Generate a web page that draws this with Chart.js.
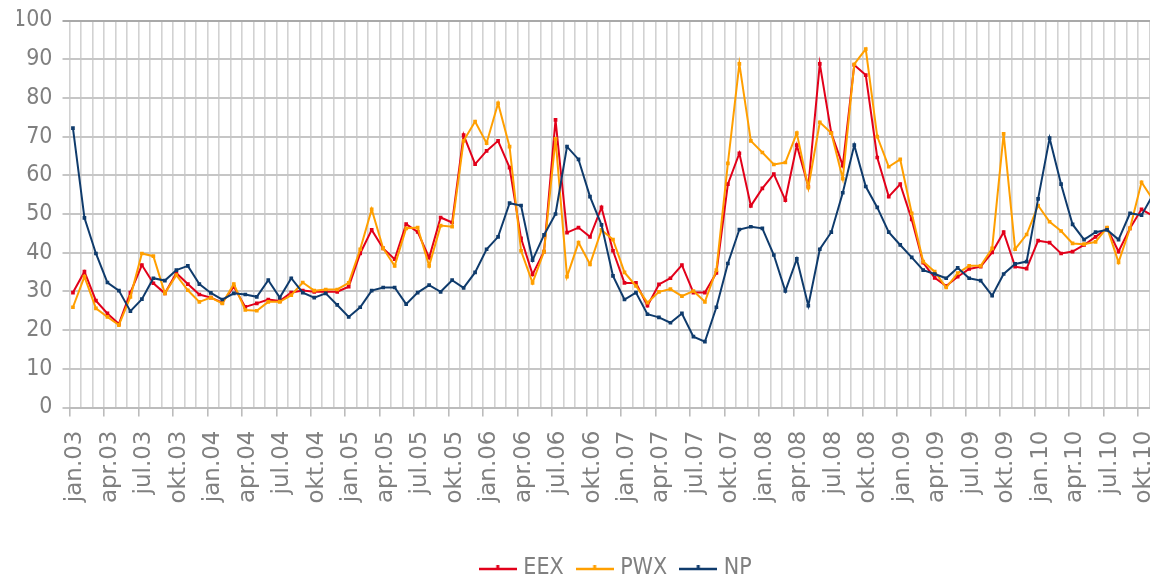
<!DOCTYPE html>
<html>
<head>
<meta charset="utf-8">
<title>EEX, PWX og NP</title>
<script src="https://cdn.jsdelivr.net/npm/chart.js@4.4.1/dist/chart.umd.min.js"></script>
<style>
  html, body { margin: 0; padding: 0; background: #fff; overflow: hidden; }
</style>
</head>
<body>
<!-- canvas is wider than the window on purpose: the chart runs on past nov.10 and is cut at the right edge -->
<canvas id="priceChart" width="1239" height="582"></canvas>
<script>
// monthly prices jan.03 - nov.10
const monthNames = ['jan', 'feb', 'mar', 'apr', 'mai', 'jun', 'jul', 'aug', 'sep', 'okt', 'nov', 'des'];
const years = ['03', '04', '05', '06', '07', '08', '09', '10'];

const eex = [
    29.7, 35.1, 27.6, 24.3, 21.6, 29.7, 36.8, 32.1, 29.5, 34.7, 31.9, 29.2,
    28.4, 27.1, 31.2, 26.0, 26.9, 27.9, 27.5, 29.7, 30.2, 29.9, 29.9, 29.9,
    31.2, 39.8, 45.9, 41.1, 38.3, 47.4, 45.4, 38.7, 49.1, 47.8, 70.4, 62.9,
    66.3, 68.9, 62.0, 43.7, 34.4, 40.3, 74.3, 45.2, 46.5, 44.1, 51.7, 40.5,
    32.2, 32.2, 26.3, 31.8, 33.4, 36.8, 29.7, 29.7, 34.8, 57.7, 65.7, 52.1,
    56.6, 60.3, 53.6, 67.8, 57.1, 88.8, 70.9, 62.5, 88.5, 85.9, 64.6, 54.5,
    57.7, 48.6, 37.4, 33.5, 31.4, 33.8, 35.8, 36.4, 40.1, 45.3, 36.4, 35.9,
    43.1, 42.6, 39.8, 40.3, 42.0, 44.1, 46.3, 40.3, 46.3, 51.2, 49.5
];
const pwx = [
    25.9, 33.8, 25.6, 23.4, 21.3, 28.6, 39.8, 39.1, 29.5, 34.2, 30.3, 27.3,
    28.4, 26.9, 31.9, 25.2, 25.0, 27.3, 27.3, 29.0, 32.3, 30.2, 30.5, 30.5,
    32.2, 40.9, 51.2, 41.1, 36.6, 46.3, 46.5, 36.6, 47.0, 46.7, 68.9, 73.9,
    68.3, 78.6, 67.4, 40.5, 32.2, 40.3, 69.4, 33.8, 42.6, 37.0, 45.9, 43.4,
    34.9, 31.4, 27.1, 29.9, 30.6, 28.8, 30.1, 27.3, 35.5, 63.1, 88.8, 68.9,
    65.9, 62.8, 63.3, 70.9, 56.8, 73.7, 70.9, 59.1, 88.7, 92.6, 70.0, 62.2,
    64.1, 50.2, 37.7, 35.1, 31.0, 34.7, 36.6, 36.6, 41.1, 70.7, 40.9, 44.7,
    52.2, 48.0, 45.6, 42.4, 42.2, 42.8, 46.5, 37.5, 46.3, 58.2, 53.7
];
const np = [
    72.2, 49.0, 39.8, 32.3, 30.2, 24.9, 28.0, 33.4, 32.8, 35.5, 36.6, 31.9,
    29.6, 27.9, 29.5, 29.2, 28.6, 32.9, 28.4, 33.4, 29.7, 28.4, 29.5, 26.5,
    23.4, 25.9, 30.2, 31.0, 31.0, 26.7, 29.7, 31.6, 29.9, 32.9, 30.9, 34.9,
    40.9, 44.1, 52.8, 52.2, 38.1, 44.6, 50.0, 67.4, 64.1, 54.5, 47.2, 34.0,
    27.9, 29.7, 24.1, 23.3, 21.9, 24.3, 18.3, 17.0, 25.9, 37.2, 46.0, 46.7,
    46.3, 39.4, 30.1, 38.4, 26.3, 40.9, 45.3, 55.5, 67.8, 57.1, 51.7, 45.3,
    42.0, 38.8, 35.5, 34.5, 33.4, 36.1, 33.4, 32.8, 28.9, 34.5, 37.1, 37.7,
    53.9, 69.6, 57.7, 47.3, 43.4, 45.3, 45.9, 43.4, 50.2, 49.7, 55.0
];

const seriesNames = ['EEX', 'PWX', 'NP'];
const seriesColors = ['#e2001a', '#ff9f00', '#0f3b6c'];

const months = [];
years.forEach(y => monthNames.forEach(m => months.push(m + '.' + y)));

const pointShift = 0.3; // markers sit a little right of the month gridline

function toPoints(values) {
    return values.map((v, i) => ({ x: i + pointShift, y: v }));
}

// legend symbol: short line with a small marker in the middle
function legendMark(color) {
    const c = document.createElement('canvas');
    c.width = 38;
    c.height = 10;
    const g = c.getContext('2d');
    g.strokeStyle = color;
    g.lineWidth = 2.5;
    g.beginPath();
    g.moveTo(0, 6);
    g.lineTo(38, 6);
    g.stroke();
    g.fillStyle = color;
    g.fillRect(17.5, 2, 3, 4);
    return c;
}
const legendMarks = seriesColors.map(legendMark);

const labelFont = { family: "'DejaVu Sans Condensed', 'DejaVu Sans', sans-serif", size: 23 };
const axisFont = { family: "'DejaVu Sans', sans-serif", size: 23 };
const textGrey = '#808080';

const datasets = [eex, pwx, np].map((values, i) => ({
    label: seriesNames[i],
    data: toPoints(values),
    borderColor: seriesColors[i],
    backgroundColor: seriesColors[i],
    borderWidth: 2,
    pointStyle: 'rect',
    pointRadius: 2.6,
    pointBorderWidth: 0,
    tension: 0,
    order: 3 - i
}));

new Chart(document.getElementById('priceChart'), {
    type: 'line',
    data: { datasets },
    options: {
        responsive: false,
        animation: false,
        devicePixelRatio: 1,
        layout: { padding: { top: 20.5, right: 20.5, bottom: -7.5, left: 17 } },
        plugins: {
            tooltip: { enabled: false },
            legend: {
                position: 'bottom',
                labels: {
                    usePointStyle: true,
                    pointStyleWidth: 28,
                    padding: 17,
                    color: textGrey,
                    font: labelFont,
                    generateLabels(chart) {
                        const items = Chart.defaults.plugins.legend.labels.generateLabels(chart);
                        items.forEach(it => { it.pointStyle = legendMarks[it.datasetIndex]; });
                        return items.sort((a, b) => a.datasetIndex - b.datasetIndex);
                    }
                }
            }
        },
        scales: {
            x: {
                type: 'linear',
                min: 0,
                max: 100,
                grid: {
                    color: '#d2d2d2',
                    lineWidth: 1.6,
                    tickLength: 9,
                    // only every third month gets a tick mark below the axis
                    tickColor: ctx => (ctx.tick && ctx.tick.value % 3 === 0) ? '#bcbcbc' : 'rgba(0,0,0,0)'
                },
                border: { color: '#bcbcbc', width: 2 },
                ticks: {
                    stepSize: 1,
                    autoSkip: false,
                    maxTicksLimit: 200,
                    minRotation: 90,
                    maxRotation: 90,
                    padding: 14,
                    labelOffset: 6,
                    color: textGrey,
                    font: axisFont,
                    callback: v => (v % 3 === 0 && v < months.length) ? months[v] : ''
                },
                afterFit: s => {
                    s.height = 132;
                    s.paddingLeft = 0;
                    s.paddingRight = 0;
                }
            },
            y: {
                min: 0,
                max: 100,
                grid: {
                    color: ctx => ctx.tick.value === 100 ? '#a9a9a9' : '#c6c6c6',
                    lineWidth: 2,
                    tickLength: 7
                },
                border: { display: false },
                ticks: {
                    stepSize: 10,
                    padding: 10,
                    color: textGrey,
                    font: labelFont
                },
                afterFit: s => {
                    s.width = 52.5;
                    s.paddingTop = 0;
                    s.paddingBottom = 0;
                }
            }
        }
    }
});
</script>
</body>
</html>
